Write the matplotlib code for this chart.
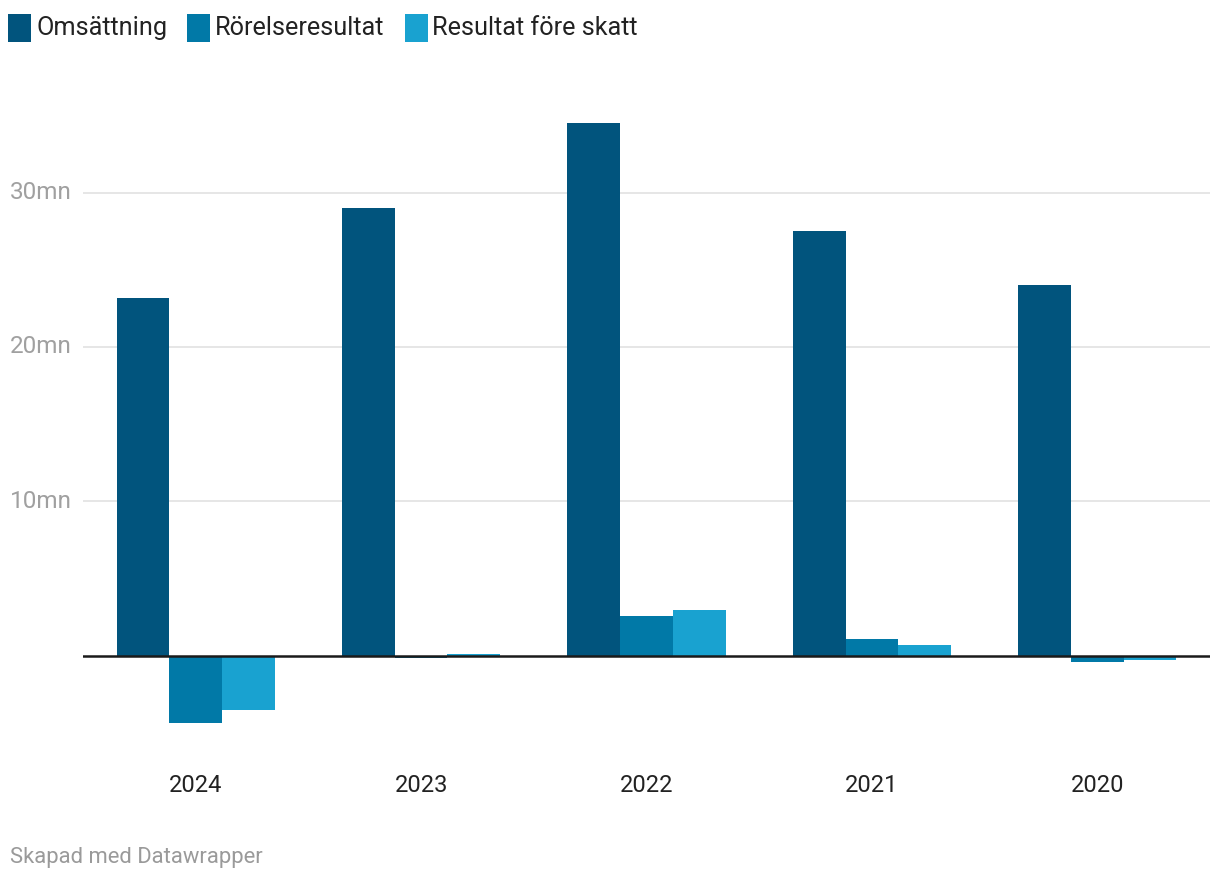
import numpy as np
import matplotlib
matplotlib.use('Agg')
from matplotlib import pyplot as plt
from matplotlib.patches import Rectangle

plt.rcParams['font.family'] = ['Roboto', 'DejaVu Sans']

years = ['2024', '2023', '2022', '2021', '2020']
omsattning = [23.2, 29.0, 34.5, 27.5, 24.0]
rorelse = [-4.35, -0.15, 2.55, 1.1, -0.4]
resultat = [-3.5, 0.1, 2.95, 0.68, -0.28]
series_names = ['Omsättning', 'Rörelseresultat', 'Resultat före skatt']
colors = ['#01547d', '#0179a7', '#19a2d0']
yticks = [10, 20, 30]
ytick_labels = ['10mn', '20mn', '30mn']

W, H = 1220, 882
fig = plt.figure(figsize=(W / 100, H / 100), dpi=100)

# axes placement in pixels
y0_px = 655.5
px_per = 15.43
ymin, ymax = -7, 36
bot_px = y0_px + (0 - ymin) * px_per
top_px = y0_px - ymax * px_per
ax = fig.add_axes([83 / W, 1 - bot_px / H, (1210 - 83) / W, (bot_px - top_px) / H])
ax.set_xlim(-0.5, len(years) - 0.5)
ax.set_ylim(ymin, ymax)
ax.axis('off')

for yv in yticks:
    ax.axhline(yv, color='#e2e2e2', lw=1.2, zorder=0)

x = np.arange(len(years))
bw = 0.234
for i, (vals, c) in enumerate(zip([omsattning, rorelse, resultat], colors)):
    ax.bar(x + (i - 1) * bw, vals, width=bw, color=c, zorder=2, linewidth=0)

ax.axhline(0, color='#1a1a1a', lw=1.8, zorder=3)

for yv, lab in zip(yticks, ytick_labels):
    ypx = y0_px - yv * px_per
    fig.text(10 / W, 1 - ypx / H, lab, ha='left', va='center', fontsize=17.5, color='#a0a0a0')

for xi, yr in zip(x, years):
    fig.text((83 + (xi + 0.5) * 225.4) / W, 1 - 786 / H, yr, ha='center', va='center',
             fontsize=17, color='#222222')

# legend
lx = 8
for name, c in zip(series_names, colors):
    fig.patches.append(Rectangle((lx / W, 1 - 42 / H), 23 / W, 28 / H, transform=fig.transFigure,
                                 facecolor=c, edgecolor='none'))
    t = fig.text((lx + 28) / W, 1 - 28 / H, name, ha='left', va='center', fontsize=18.2, color='#222222')
    fig.canvas.draw()
    bb = t.get_window_extent()
    lx = bb.x1 + 20

fig.text(10 / W, 1 - 858 / H, 'Skapad med Datawrapper', ha='left', va='center', fontsize=15.8, color='#9a9a9a')

fig.savefig('out.png', dpi=100)
